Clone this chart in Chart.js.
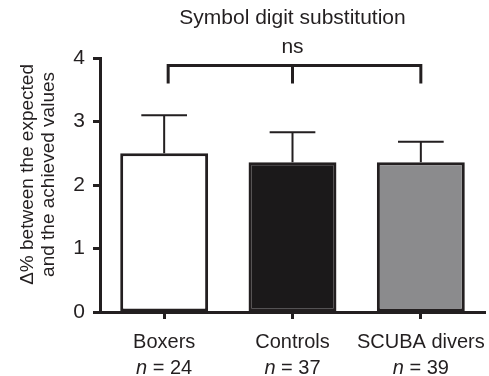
<!DOCTYPE html>
<html lang="en">
<head>
    <meta charset="utf-8">
    <title>Symbol digit substitution</title>
    <script src="https://cdn.jsdelivr.net/npm/chart.js@4.4.1/dist/chart.umd.min.js"></script>
    <style>
        * {
            box-sizing: border-box;
        }

        body {
            margin: 0;
            background: #fff;
        }

        .chartBox {
            width: 489px;
            height: 376px;
        }
    </style>
</head>
<body>

    <div class="chartBox">
        <canvas id="myChart"></canvas>
    </div>

    <script>
        // data
        var groups = ['Boxers', 'Controls', 'SCUBA divers'];
        var nCounts = [24, 37, 39];
        var means = [2.5, 2.36, 2.36];
        var errUpper = [0.6, 0.47, 0.32];
        var yTicks = [0, 1, 2, 3, 4];
        var sigLabel = 'ns';
        var sigLevel = 3.88;
        var sigDrop = 0.28;

        var barColors = ['#ffffff', '#1b191a', '#8b8b8d'];
        var ink = '#231f20';
        var fontFam = '"Liberation Sans", Arial, Helvetica, sans-serif';

        // error bars, significance bracket and the n = .. line under the labels
        var extras = {
            id: 'extras',
            afterDatasetsDraw: function (chart) {
                var ctx = chart.ctx;
                var x = chart.scales.x;
                var y = chart.scales.y;
                var meta = chart.getDatasetMeta(0);

                ctx.save();
                ctx.strokeStyle = ink;
                ctx.lineCap = 'butt';

                // upper error bars
                ctx.lineWidth = 2;
                for (var i = 0; i < means.length; i++) {
                    var cx = x.getPixelForValue(i);
                    var yTop = y.getPixelForValue(means[i]);
                    var yErr = y.getPixelForValue(means[i] + errUpper[i]);
                    var capHalf = meta.data[i].width * 0.26;
                    ctx.beginPath();
                    ctx.moveTo(cx, yTop);
                    ctx.lineTo(cx, yErr);
                    ctx.moveTo(cx - capHalf, yErr);
                    ctx.lineTo(cx + capHalf, yErr);
                    ctx.stroke();
                }

                // bracket
                var yb = y.getPixelForValue(sigLevel);
                var yd = y.getPixelForValue(sigLevel - sigDrop);
                var x0 = x.getPixelForValue(0) + 4;
                var x1 = x.getPixelForValue(1);
                var x2 = x.getPixelForValue(groups.length - 1);
                ctx.lineWidth = 3;
                ctx.beginPath();
                ctx.moveTo(x0, yd);
                ctx.lineTo(x0, yb);
                ctx.lineTo(x2, yb);
                ctx.lineTo(x2, yd);
                ctx.moveTo(x1, yb);
                ctx.lineTo(x1, yd);
                ctx.stroke();

                ctx.fillStyle = ink;
                ctx.textAlign = 'center';
                ctx.textBaseline = 'middle';
                ctx.font = '21px ' + fontFam;
                ctx.fillText(sigLabel, x1, yb - 18.5);

                // n = .. with italic n
                var yn = y.bottom + 56;
                for (var j = 0; j < groups.length; j++) {
                    var px = x.getPixelForValue(j);
                    ctx.font = 'italic 20px ' + fontFam;
                    var w1 = ctx.measureText('n').width;
                    ctx.font = '20px ' + fontFam;
                    var rest = ' = ' + nCounts[j];
                    var w2 = ctx.measureText(rest).width;
                    var start = px - (w1 + w2) / 2;
                    ctx.textAlign = 'left';
                    ctx.font = 'italic 20px ' + fontFam;
                    ctx.fillText('n', start, yn);
                    ctx.font = '20px ' + fontFam;
                    ctx.fillText(rest, start + w1, yn);
                }
                ctx.restore();
            }
        };

        var ctx = document.getElementById('myChart').getContext('2d');
        var myChart = new Chart(ctx, {
            type: 'bar',
            data: {
                labels: groups,
                datasets: [{
                    data: means,
                    backgroundColor: barColors,
                    borderColor: ink,
                    borderWidth: 3,
                    borderSkipped: false,
                    barPercentage: 0.685,
                    categoryPercentage: 1
                }]
            },
            options: {
                responsive: true,
                maintainAspectRatio: false,
                animation: false,
                events: [],
                layout: {
                    padding: { top: 0, right: 4, bottom: 0, left: 0 }
                },
                plugins: {
                    legend: { display: false },
                    tooltip: { enabled: false },
                    title: {
                        display: true,
                        fullSize: false,
                        text: 'Symbol digit substitution',
                        color: ink,
                        font: { family: fontFam, size: 21, weight: 'normal', lineHeight: 1.2 },
                        padding: { top: 6, bottom: 26.8 }
                    }
                },
                scales: {
                    x: {
                        afterFit: function (scale) {
                            scale.height = 64;
                            scale.paddingLeft = 0;
                            scale.paddingRight = 0;
                        },
                        grid: {
                            offset: false,
                            drawOnChartArea: false,
                            drawTicks: true,
                            tickLength: 7,
                            tickWidth: 3,
                            tickColor: ink
                        },
                        border: { display: true, color: ink, width: 3 },
                        ticks: {
                            color: ink,
                            padding: 11,
                            maxRotation: 0,
                            autoSkip: false,
                            font: { family: fontFam, size: 20, lineHeight: 1.2 }
                        }
                    },
                    y: {
                        min: 0,
                        max: 4,
                        afterFit: function (scale) { scale.width = 100; },
                        afterBuildTicks: function (scale) {
                            scale.ticks = yTicks.map(function (v) { return { value: v }; });
                        },
                        grid: {
                            drawOnChartArea: false,
                            drawTicks: true,
                            tickLength: 7,
                            tickWidth: 3,
                            tickColor: ink
                        },
                        border: { display: true, color: ink, width: 3 },
                        ticks: {
                            color: ink,
                            padding: 8,
                            font: { family: fontFam, size: 21 }
                        },
                        title: {
                            display: true,
                            // leading spaces lift the rotated title a little, as in the figure
                            text: ['    \u0394% between the expected', '    and the achieved values'],
                            color: ink,
                            font: { family: fontFam, size: 19, lineHeight: 1.07 },
                            padding: { top: 18, bottom: 0 }
                        }
                    }
                }
            },
            plugins: [extras]
        });
    </script>

</body>
</html>
